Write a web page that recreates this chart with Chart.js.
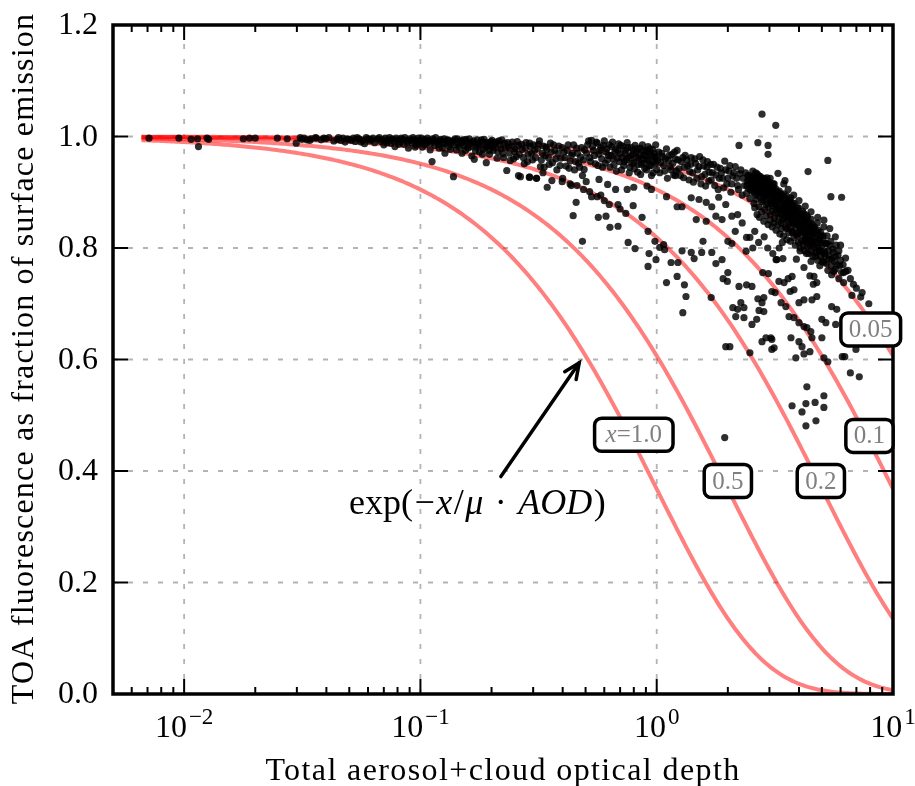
<!DOCTYPE html>
<html>
<head>
<meta charset="utf-8">
<script src="https://cdn.jsdelivr.net/npm/chart.js@4.4.1/dist/chart.umd.min.js"></script>
<style>
  html, body { margin: 0; padding: 0; background: #fff; }
  #wrap { width: 915px; height: 786px; }
</style>
</head>
<body>
<div id="wrap"><canvas id="fluorChart" width="915" height="786"></canvas></div>
<script>
// model curves exp(-x/mu * AOD), one per extinction factor x
const curveFactors = [1.0, 0.5, 0.2, 0.1, 0.05]
const mu = 1.0
const curveStart = 0.0066
const curveEnd = 10
const curveSamples = 300

// curve tags and where they sit (AOD, fraction)
const curveLabels = ['x=1.0', '0.5', '0.2', '0.1', '0.05']
const labelAod = [0.80, 2.0, 4.95, 7.95, 8.05]
const labelFrac = [0.465, 0.382, 0.382, 0.463, 0.654]

const yTicks = [0, 0.2, 0.4, 0.6, 0.8, 1.0, 1.2]
const xMajorTicks = [0.01, 0.1, 1, 10]
const xTickExponents = ['\u22122', '\u22121', '0', '1']

// arrow from the formula to the x=1.0 curve
const arrowTail = [0.219, 0.390]
const arrowHead = [0.470, 0.594]
const formulaAt = [0.1755, 0.340]

// observations as [AOD, TOA fraction]
const obsClear = [
  [0.0071,0.997],[0.0095,0.997],[0.0107,0.995],[0.0114,0.996],[0.0115,0.982],[0.0125,0.997],
  [0.0127,0.995],[0.0178,0.996],[0.0189,0.997],[0.020,0.997],[0.0248,0.997],[0.0273,0.996],
  [0.0298,0.988],[0.0315,0.995],[0.0322,0.997],[0.0330,0.994],[0.0345,0.996],[0.0362,0.997],
  [0.0390,0.997],[0.0397,0.996],[0.0445,0.995],[0.0460,0.993],[0.0470,0.997],[0.048,0.990],
  [0.050,0.995],[0.052,0.997],[0.053,0.991],[0.055,0.996],[0.057,0.993],[0.058,0.987],
  [0.060,0.996],[0.061,0.992],[0.063,0.997],[0.064,0.989],
  [0.031,0.998],[0.034,0.993],[0.036,0.998],[0.038,0.994],[0.041,0.998],[0.043,0.992],
  [0.045,0.998],[0.049,0.996],[0.051,0.993],[0.054,0.998],[0.056,0.990],[0.059,0.998],[0.062,0.994]
]

const obsThin = [
  [0.066,0.996],[0.068,0.991],[0.070,0.985],[0.071,0.997],[0.073,0.993],[0.075,0.988],[0.076,0.996],
  [0.078,0.982],[0.080,0.994],[0.082,0.990],[0.083,0.997],[0.085,0.986],[0.087,0.993],[0.089,0.979],
  [0.090,0.996],[0.092,0.989],[0.094,0.994],[0.096,0.985],[0.098,0.997],[0.100,0.991],
  [0.102,0.981],[0.104,0.995],[0.106,0.988],[0.108,0.993],[0.110,0.976],[0.112,0.955],[0.113,0.996],
  [0.115,0.984],[0.118,0.991],[0.120,0.979],[0.122,0.995],[0.125,0.987],[0.127,0.970],[0.130,0.993],
  [0.132,0.982],[0.135,0.989],[0.138,0.928],[0.140,0.996],[0.142,0.976],[0.145,0.986],[0.148,0.992],
  [0.150,0.970],[0.153,0.983],[0.156,0.995],[0.159,0.979],[0.162,0.988],[0.165,0.965],[0.168,0.992],
  [0.169,0.959],[0.172,0.981],[0.175,0.986],[0.178,0.972],[0.181,0.994],[0.184,0.977],[0.187,0.989],
  [0.190,0.953],[0.193,0.983],[0.196,0.968],[0.199,0.991],
  [0.203,0.975],[0.207,0.986],[0.211,0.961],[0.215,0.992],[0.219,0.978],[0.223,0.969],[0.227,0.988],
  [0.232,0.939],[0.236,0.981],[0.240,0.957],[0.245,0.990],[0.250,0.973],[0.255,0.964],[0.260,0.984],
  [0.265,0.928],[0.270,0.977],[0.275,0.951],[0.280,0.989],[0.286,0.968],[0.289,0.927],[0.292,0.982],
  [0.298,0.958],[0.304,0.975],[0.310,0.925],[0.316,0.986],[0.322,0.946],[0.328,0.970],[0.334,0.945],
  [0.340,0.981],[0.344,0.909],[0.348,0.962],[0.355,0.988],[0.362,0.953],[0.370,0.975],[0.378,0.940],
  [0.385,0.983],[0.393,0.961],[0.398,0.919],[0.405,0.972],[0.413,0.947],[0.422,0.985],[0.430,0.956],
  [0.435,0.912],[0.440,0.970],[0.449,0.940],[0.456,0.882],[0.458,0.979],[0.467,0.952],[0.476,0.963],
  [0.485,0.930],[0.493,0.941],[0.495,0.976],[0.503,0.919],
  [0.26,0.930],[0.29,0.927],[0.31,0.925],[0.33,0.935],[0.36,0.921],[0.40,0.925],[0.43,0.915],
  [0.46,0.912],[0.49,0.905],
  [0.067,0.998],[0.069,0.994],[0.072,0.989],[0.074,0.998],[0.077,0.992],[0.079,0.997],[0.081,0.986],
  [0.084,0.995],[0.086,0.998],[0.088,0.990],[0.091,0.993],[0.093,0.998],[0.095,0.981],[0.097,0.992],
  [0.099,0.987],[0.101,0.997],[0.103,0.990],[0.105,0.985],[0.107,0.997],[0.109,0.992],[0.111,0.988],
  [0.114,0.993],[0.116,0.998],[0.119,0.986],[0.121,0.992],[0.124,0.980],[0.126,0.996],[0.129,0.988],
  [0.131,0.994],[0.134,0.977],[0.137,0.992],[0.139,0.985],[0.143,0.996],[0.146,0.981],[0.149,0.989],
  [0.152,0.994],[0.155,0.975],[0.158,0.988],[0.161,0.996],[0.164,0.982],[0.167,0.990],[0.171,0.974],
  [0.174,0.994],[0.177,0.984],[0.180,0.990],[0.183,0.968],[0.186,0.995],[0.189,0.980],[0.192,0.989],
  [0.195,0.975],[0.198,0.985],
  [0.201,0.993],[0.205,0.980],[0.209,0.990],[0.213,0.972],[0.217,0.985],[0.221,0.994],[0.225,0.962],
  [0.229,0.979],[0.234,0.989],[0.238,0.970],[0.243,0.983],[0.248,0.960],[0.252,0.978],[0.257,0.991],
  [0.262,0.968],[0.268,0.986],[0.273,0.962],[0.278,0.979],[0.284,0.955],[0.290,0.988],[0.295,0.970],
  [0.301,0.985],[0.307,0.962],[0.313,0.978],[0.319,0.992],[0.325,0.958],[0.331,0.983],[0.337,0.966],
  [0.343,0.977],[0.351,0.950],[0.358,0.972],[0.366,0.985],[0.374,0.960],[0.382,0.970],[0.390,0.948],
  [0.398,0.980],[0.409,0.962],[0.418,0.975],[0.426,0.943],[0.436,0.966],[0.445,0.985],[0.453,0.955],
  [0.462,0.970],[0.472,0.945],[0.481,0.980],[0.490,0.958]
]

const obsModerate = [
  [0.51,0.985],[0.52,0.962],[0.53,0.993],[0.54,0.975],[0.55,0.951],[0.56,0.988],[0.57,0.968],
  [0.58,0.980],[0.59,0.945],[0.60,0.992],[0.61,0.972],[0.62,0.958],[0.63,0.985],[0.64,0.966],
  [0.65,0.990],[0.66,0.949],[0.67,0.978],[0.68,0.961],[0.69,0.987],[0.70,0.970],[0.71,0.940],
  [0.72,0.982],[0.73,0.955],[0.74,0.975],[0.75,0.989],[0.76,0.962],[0.77,0.945],[0.78,0.980],
  [0.79,0.968],[0.80,0.953],[0.81,0.984],[0.82,0.972],[0.83,0.936],[0.84,0.961],[0.85,0.979],
  [0.86,0.950],[0.87,0.985],[0.88,0.966],[0.89,0.943],[0.90,0.975],[0.91,0.958],[0.92,0.982],
  [0.93,0.947],[0.94,0.969],[0.95,0.930],[0.96,0.977],[0.97,0.955],[0.98,0.964],[0.99,0.985],
  [1.00,0.941],
  [1.02,0.972],[1.04,0.953],[1.06,0.964],[1.08,0.938],[1.10,0.978],[1.12,0.957],[1.14,0.946],
  [1.16,0.968],[1.18,0.931],[1.20,0.960],[1.22,0.975],[1.24,0.942],[1.27,0.955],[1.30,0.926],
  [1.32,0.966],[1.35,0.948],[1.38,0.937],[1.40,0.962],[1.43,0.918],[1.46,0.952],[1.49,0.940],
  [1.52,0.964],[1.55,0.928],[1.58,0.947],[1.61,0.911],[1.64,0.955],[1.67,0.936],[1.70,0.922],
  [1.74,0.950],[1.78,0.931],[1.82,0.905],[1.86,0.943],[1.90,0.925],[1.94,0.956],[1.98,0.915],
  [2.02,0.938],[2.06,0.900],[2.10,0.929],[2.15,0.946],[2.20,0.912],[2.25,0.933],[2.30,0.895],
  [0.57,0.923],[0.62,0.914],[0.67,0.905],[0.53,0.892],[0.52,0.901],[0.75,0.905],[0.80,0.909],
  [0.91,0.911],[0.95,0.905],[1.10,0.892],[1.22,0.874],[1.28,0.874],[1.20,0.930],[1.40,0.890],
  [1.51,0.887],[1.62,0.882],[1.47,0.851],[1.62,0.848],[1.78,0.857],[1.89,0.851],[2.08,0.857],
  [1.71,0.874],[1.83,0.891],[1.96,0.878],[2.20,0.860],[2.30,0.845],[2.15,0.830],[2.00,0.812],
  [0.56,0.892],[0.60,0.885],[0.63,0.878],[0.58,0.895],[0.70,0.870],[0.74,0.862],
  [0.505,0.970],[0.515,0.992],[0.525,0.955],[0.535,0.982],[0.545,0.966],[0.555,0.990],[0.565,0.948],
  [0.575,0.975],[0.585,0.960],[0.595,0.984],[0.605,0.952],[0.615,0.978],[0.625,0.966],[0.635,0.945],
  [0.645,0.982],[0.655,0.960],[0.665,0.972],[0.675,0.938],[0.685,0.975],[0.695,0.955],[0.705,0.984],
  [0.715,0.962],[0.725,0.948],[0.735,0.970],[0.745,0.958],[0.755,0.980],[0.765,0.935],[0.775,0.965],
  [0.785,0.952],[0.795,0.975],[0.805,0.942],[0.815,0.962],[0.825,0.978],[0.835,0.950],[0.845,0.968],
  [0.855,0.932],[0.865,0.960],[0.875,0.975],[0.885,0.952],[0.895,0.965],[0.905,0.940],[0.915,0.972],
  [0.925,0.958],[0.935,0.978],[0.945,0.948],[0.955,0.965],[0.965,0.935],[0.975,0.970],[0.985,0.952],
  [0.995,0.962],
  [1.01,0.958],[1.03,0.935],[1.05,0.970],[1.07,0.948],[1.09,0.960],[1.11,0.925],[1.13,0.966],
  [1.15,0.940],[1.17,0.952],[1.19,0.972],[1.21,0.938],[1.23,0.958],[1.26,0.930],[1.29,0.962],
  [1.31,0.945],[1.34,0.958],[1.37,0.922],[1.39,0.950],[1.42,0.935],[1.45,0.960],[1.48,0.925],
  [1.51,0.946],[1.54,0.915],[1.57,0.958],[1.60,0.932],[1.63,0.945],[1.66,0.920],[1.69,0.950],
  [1.72,0.935],[1.76,0.912],[1.80,0.945],[1.84,0.925],[1.88,0.935],[1.92,0.908],[1.96,0.940],
  [2.00,0.925],[2.04,0.948],[2.08,0.915],[2.12,0.935],[2.18,0.925],[2.22,0.905],[2.27,0.940]
]

const obsCluster = [
  [2.32,0.925],[2.35,0.912],[2.38,0.935],[2.40,0.898],[2.42,0.920],[2.44,0.907],[2.46,0.930],
  [2.48,0.889],[2.50,0.915],[2.51,0.927],[2.53,0.902],[2.55,0.938],[2.56,0.918],[2.58,0.880],
  [2.60,0.909],[2.61,0.926],[2.63,0.895],[2.65,0.915],[2.66,0.933],[2.68,0.902],[2.70,0.921],
  [2.71,0.874],[2.73,0.910],[2.75,0.928],
  [2.77,0.897],[2.79,0.915],[2.81,0.886],[2.83,0.922],[2.85,0.905],[2.87,0.869],[2.89,0.912],
  [2.91,0.893],[2.93,0.926],[2.95,0.880],[2.97,0.903],[2.99,0.918],[3.01,0.888],[3.03,0.860],
  [3.05,0.908],[3.07,0.895],[3.09,0.876],[3.11,0.915],[3.13,0.899],[3.15,0.853],[3.17,0.886],
  [3.19,0.906],[3.21,0.870],
  [3.24,0.893],[3.27,0.862],[3.30,0.902],[3.33,0.879],[3.36,0.845],[3.39,0.888],[3.42,0.868],
  [3.45,0.897],[3.48,0.853],[3.51,0.876],[3.54,0.835],[3.57,0.884],[3.60,0.862],[3.63,0.843],
  [3.66,0.873],[3.69,0.890],[3.72,0.851],[3.75,0.828],[3.78,0.866],
  [3.82,0.880],[3.86,0.846],[3.90,0.861],[3.94,0.825],[3.98,0.872],[4.02,0.839],[4.06,0.855],
  [4.10,0.812],[4.14,0.866],[4.18,0.832],[4.22,0.848],[4.26,0.818],[4.30,0.859],[4.35,0.826],
  [4.40,0.840],[4.45,0.805],[4.50,0.852],[4.55,0.820],
  [4.62,0.835],[4.70,0.806],[4.78,0.845],[4.86,0.815],[4.94,0.828],[5.02,0.793],[5.10,0.838],
  [5.18,0.808],[5.26,0.822],[5.35,0.786],[5.45,0.812],[5.55,0.798],[5.65,0.776],[5.75,0.805],
  [5.85,0.787],[5.95,0.768],
  [2.41,0.912],[2.45,0.922],[2.49,0.905],[2.52,0.918],[2.57,0.928],[2.59,0.899],[2.62,0.914],
  [2.64,0.887],[2.67,0.922],[2.69,0.910],[2.72,0.893],[2.74,0.917],[2.76,0.906],[2.78,0.883],
  [2.80,0.925],[2.82,0.900],[2.84,0.913],[2.86,0.891],[2.88,0.920],[2.90,0.878],[2.92,0.906],
  [2.94,0.897],[2.96,0.913],[2.98,0.872],[3.00,0.900],[3.02,0.912],[3.04,0.883],[3.06,0.902],
  [3.08,0.866],[3.10,0.894],[3.12,0.908],[3.14,0.880],[3.16,0.897],[3.18,0.864],[3.20,0.891],
  [3.23,0.876],[3.26,0.900],[3.29,0.855],[3.32,0.887],[3.35,0.869],[3.38,0.896],[3.41,0.850],
  [3.44,0.880],[3.47,0.866],[3.50,0.889],[3.53,0.857],[3.56,0.872],[3.59,0.848],[3.62,0.880],
  [3.65,0.858],[3.68,0.838],[3.71,0.869],[3.74,0.880],[3.77,0.845],[3.80,0.857],[3.84,0.870],
  [3.88,0.836],[3.92,0.852],[3.96,0.862],[4.00,0.828],[4.04,0.846],[4.08,0.858],[4.12,0.823],
  [4.16,0.841],[4.20,0.852],[4.24,0.812],[4.28,0.836],[4.32,0.846],[4.38,0.815],[4.42,0.830],
  [4.48,0.838],[4.52,0.808],[4.58,0.826],[4.66,0.818],[4.74,0.830],[4.82,0.800],[4.90,0.818],
  [4.98,0.809],[5.06,0.822],[5.14,0.795],
  [4.05,0.800],[4.30,0.790],[4.50,0.776],[4.70,0.785],[4.90,0.768],[5.10,0.775],[5.30,0.760],
  [5.50,0.752],[5.70,0.762],[5.90,0.745],[6.06,0.756],[3.90,0.780],[4.20,0.765],[4.45,0.750],
  [4.60,0.735],[2.55,0.800],[2.60,0.830],[2.70,0.810],[2.85,0.820],[2.95,0.800],[3.10,0.790],
  [3.30,0.800],[3.40,0.810],[3.20,0.779],
  [2.43,0.930],[2.47,0.915],[2.54,0.925],[2.58,0.910],[2.62,0.935],[2.66,0.905],[2.70,0.930],
  [2.74,0.900],[2.78,0.920],[2.82,0.910],[2.86,0.925],[2.90,0.895],[2.94,0.915],[2.98,0.905],
  [3.02,0.925],[3.06,0.885],[3.10,0.905],[3.14,0.915],[3.18,0.878],[3.22,0.900],[3.26,0.885],
  [3.30,0.870],[3.34,0.895],[3.38,0.860],[3.42,0.888],[3.46,0.875],[3.50,0.860],[3.55,0.893],
  [3.58,0.870],[3.62,0.855],[3.66,0.885],[3.70,0.862],[3.74,0.850],[3.78,0.876],[3.82,0.858],
  [3.86,0.868],[3.90,0.842],[3.94,0.872],[3.98,0.850],[4.02,0.862],[4.06,0.835],[4.10,0.855],
  [4.14,0.845],[4.18,0.862],[4.22,0.828],[4.26,0.850],[4.30,0.838],[4.35,0.856],[4.40,0.822],
  [4.45,0.845],[4.50,0.830],[4.55,0.842],[4.60,0.812],[4.65,0.838],[4.70,0.825],[4.76,0.810],
  [4.82,0.832],[4.88,0.795],[4.95,0.822],[5.00,0.805],[5.08,0.812],[5.16,0.785],[5.24,0.808],
  [5.32,0.795],[5.40,0.805],[5.50,0.780],[5.60,0.792],[5.70,0.785],[5.80,0.770],[5.90,0.795],
  [6.00,0.778],[6.15,0.770],[6.30,0.782],[6.45,0.760],[6.60,0.745],[6.80,0.735],[7.00,0.728],
  [7.30,0.712],
  [2.60,0.872],[2.66,0.860],[2.72,0.855],[2.78,0.865],[2.84,0.848],[2.90,0.858],[2.96,0.842],
  [3.02,0.850],[3.08,0.838],[3.14,0.845],[3.20,0.832],[3.26,0.842],[3.32,0.825],[3.38,0.835],
  [3.44,0.822],[3.50,0.838],[3.56,0.815],[3.62,0.828],[3.68,0.812],[3.74,0.830],[3.80,0.818],
  [3.86,0.805],[3.92,0.822],[3.98,0.810],[4.04,0.795],[4.10,0.830],[4.16,0.805],[4.22,0.795],
  [4.28,0.815],[4.34,0.802],[4.40,0.790],[4.46,0.812],[4.52,0.795],[4.58,0.785],[4.64,0.802],
  [4.72,0.792],[4.80,0.778],[4.86,0.795],[4.94,0.785],[5.02,0.775],[5.12,0.790],[5.22,0.772],
  [5.36,0.780],[5.48,0.768],[5.62,0.758],[3.45,0.915],[3.60,0.905],[3.80,0.895],[4.00,0.885],
  [4.25,0.875],[4.50,0.865],[4.80,0.855],[5.10,0.850],[5.40,0.835],[5.70,0.820],[6.00,0.805]
]

const obsSparse = [
  [0.443,0.858],[0.485,0.812],[0.566,0.855],[0.61,0.857],[0.634,0.837],[0.686,0.839],[0.686,0.878],
  [0.757,0.810],[0.81,0.799],[0.867,0.855],[0.795,0.876],[0.919,0.830],[0.928,0.790],[0.919,0.767],
  [0.993,0.779],[0.983,0.812],[1.03,0.801],[1.07,0.806],[1.08,0.797],[1.10,0.738],[1.15,0.774],
  [1.23,0.774],[1.22,0.749],[1.28,0.795],[1.31,0.734],[1.33,0.713],[1.29,0.684],[1.40,0.792],
  [1.44,0.781],[1.55,0.792],[1.57,0.812],[1.71,0.792],[1.70,0.711],[1.78,0.772],[1.89,0.779],
  [1.91,0.745],[2.00,0.756],[1.99,0.740],[2.08,0.808],[2.10,0.693],[2.20,0.690],[2.34,0.693],
  [2.23,0.731],[2.40,0.734],[2.53,0.731],[2.16,0.677],[2.34,0.675],[2.27,0.702],[2.40,0.819],
  [2.48,0.819],[2.39,0.794],[2.68,0.709],[2.79,0.702],[2.84,0.711],[2.71,0.688],[2.84,0.686],
  [2.53,0.663],[2.65,0.672],[2.81,0.756],[2.97,0.754],[3.07,0.722],[3.17,0.720],[3.22,0.779],
  [3.42,0.781],[3.29,0.740],[3.46,0.738],[3.60,0.745],[3.74,0.749],[3.67,0.722],[3.81,0.725],
  [3.36,0.702],[3.52,0.695],[3.63,0.677],[3.81,0.675],[4.00,0.666],[4.20,0.659],[4.32,0.657],
  [4.49,0.650],[4.00,0.702],[4.20,0.707],[4.54,0.707],[4.76,0.713],[4.63,0.749],[4.76,0.738],
  [5.00,0.672],[5.20,0.666],[5.50,0.695],[5.78,0.690],[5.72,0.663],[4.54,0.639],[5.00,0.639],
  [6.18,0.756],[6.31,0.758],[6.18,0.738],[6.70,0.715],[7.40,0.720],[7.90,0.700],[2.90,0.639],
  [3.07,0.636],[1.96,0.623],[2.04,0.623],[6.50,0.630],
  [2.48,0.612],[3.04,0.639],[3.07,0.618],[3.14,0.621],[3.88,0.603],[4.20,0.610],[4.45,0.614],
  [5.10,0.603],[5.30,0.596],[6.10,0.605],[6.25,0.605],[6.60,0.576],[7.20,0.569],[6.97,0.618],
  [4.32,0.551],[3.74,0.517],[4.28,0.521],[4.68,0.523],[5.10,0.535],[5.10,0.514],[4.12,0.506],
  [4.72,0.490],[4.28,0.481],[1.94,0.460],[2.79,0.632],[3.70,0.639],[4.00,0.632],[4.12,0.623],
  [2.79,1.040],[3.19,1.020],[2.23,0.984],[2.68,0.989],[2.96,0.984],[2.96,0.968],[5.30,0.957],
  [4.37,0.937],[3.26,0.934],[3.49,0.921],[5.46,0.892],[6.06,0.891]
]

const serif = '"Liberation Serif", "Times New Roman", serif'

function curvePoints(factor) {
  const pts = []
  const l0 = Math.log10(curveStart), l1 = Math.log10(curveEnd)
  for (let i = 0; i <= curveSamples; i++) {
    const a = Math.pow(10, l0 + (l1 - l0) * i / curveSamples)
    pts.push({ x: a, y: Math.exp(-factor / mu * a) })
  }
  return pts
}

const toXY = arr => arr.map(p => ({ x: p[0], y: p[1] }))
const observations = [].concat(obsClear, obsThin, obsModerate, obsCluster, obsSparse)

// draws text pieces in sequence, some of them italic; [null, _, gap] adds space
function drawRuns(ctx, runs, size, cx, cy, color, spacing) {
  ctx.fillStyle = color
  ctx.textBaseline = 'middle'
  ctx.textAlign = 'left'
  const sp = spacing || 0
  const widthOf = r => {
    if (r[0] === null) return r[2]
    ctx.font = (r[1] ? 'italic ' : '') + size + 'px ' + serif
    return ctx.measureText(r[0]).width + sp
  }
  let total = 0
  runs.forEach(r => { total += widthOf(r) })
  let px = cx - total / 2
  runs.forEach(r => {
    const w = widthOf(r)
    if (r[0] !== null) ctx.fillText(r[0], px, cy)
    px += w
  })
  return total
}

const decorations = {
  id: 'decorations',
  beforeDatasetsDraw(chart) {
    const { ctx, chartArea: a, scales: { x, y } } = chart
    ctx.save()
    ctx.strokeStyle = '#b3b3b3'
    ctx.lineWidth = 1.8
    ctx.setLineDash([5, 10])
    xMajorTicks.forEach(v => {
      const px = x.getPixelForValue(v)
      if (px >= a.right - 1) return
      ctx.beginPath(); ctx.moveTo(px, a.bottom); ctx.lineTo(px, a.top); ctx.stroke()
    })
    yTicks.forEach(v => {
      const py = y.getPixelForValue(v)
      if (py <= a.top + 1 || py >= a.bottom - 1) return
      ctx.beginPath(); ctx.moveTo(a.left, py); ctx.lineTo(a.right, py); ctx.stroke()
    })
    ctx.restore()
  },
  afterDatasetsDraw(chart) {
    const { ctx, chartArea: a, scales: { x, y } } = chart
    ctx.save()

    // tick marks pointing inwards on all four sides
    ctx.strokeStyle = '#000'
    ctx.lineWidth = 2
    const minor = []
    for (let e = -3; e <= 0; e++) {
      for (let m = 2; m <= 9; m++) {
        const v = m * Math.pow(10, e)
        if (v > 0.005 && v < 10) minor.push(v)
      }
    }
    const tick = (px, len) => {
      ctx.beginPath(); ctx.moveTo(px, a.bottom); ctx.lineTo(px, a.bottom - len); ctx.stroke()
      ctx.beginPath(); ctx.moveTo(px, a.top); ctx.lineTo(px, a.top + len); ctx.stroke()
    }
    minor.forEach(v => tick(x.getPixelForValue(v), 7))
    xMajorTicks.forEach(v => tick(x.getPixelForValue(v), 15))
    yTicks.forEach(v => {
      const py = y.getPixelForValue(v)
      ctx.beginPath(); ctx.moveTo(a.left, py); ctx.lineTo(a.left + 15, py); ctx.stroke()
      ctx.beginPath(); ctx.moveTo(a.right, py); ctx.lineTo(a.right - 15, py); ctx.stroke()
    })

    // frame
    ctx.lineWidth = 3.5
    ctx.strokeRect(a.left, a.top, a.right - a.left, a.bottom - a.top)

    // y tick labels
    ctx.fillStyle = '#000'
    ctx.font = '32px ' + serif
    ctx.textAlign = 'right'
    ctx.textBaseline = 'middle'
    yTicks.forEach(v => ctx.fillText(v.toFixed(1), a.left - 15, y.getPixelForValue(v) + 1))

    // x tick labels as 10 with a raised exponent
    xMajorTicks.forEach((v, i) => {
      const px = x.getPixelForValue(v)
      ctx.textAlign = 'left'
      ctx.textBaseline = 'alphabetic'
      ctx.font = '32px ' + serif
      const wb = ctx.measureText('10').width
      ctx.font = '23px ' + serif
      const we = ctx.measureText(xTickExponents[i]).width
      const left = px - (wb + 2 + we) / 2
      ctx.font = '32px ' + serif
      ctx.fillText('10', left, a.bottom + 43)
      ctx.font = '23px ' + serif
      ctx.fillText(xTickExponents[i], left + wb + 2, a.bottom + 30)
    })

    // axis titles
    ctx.font = '32px ' + serif
    ctx.letterSpacing = '1.4px'
    ctx.textAlign = 'center'
    ctx.textBaseline = 'alphabetic'
    ctx.fillText('Total aerosol+cloud optical depth', (a.left + a.right) / 2, a.bottom + 86)
    ctx.save()
    ctx.translate(33, (a.top + a.bottom) / 2 - 1)
    ctx.rotate(-Math.PI / 2)
    ctx.letterSpacing = '1.2px'
    ctx.fillText('TOA fluorescence as fraction of surface emission', 0, 0)
    ctx.restore()
    ctx.letterSpacing = '0px'

    // arrow and formula
    const tx = x.getPixelForValue(arrowTail[0]), ty = y.getPixelForValue(arrowTail[1])
    const hx = x.getPixelForValue(arrowHead[0]), hy = y.getPixelForValue(arrowHead[1])
    const ang = Math.atan2(hy - ty, hx - tx)
    ctx.strokeStyle = '#000'
    ctx.lineWidth = 3.5
    ctx.lineCap = 'round'
    ctx.beginPath(); ctx.moveTo(tx, ty); ctx.lineTo(hx, hy); ctx.stroke()
    ctx.beginPath()
    ctx.moveTo(hx - 17 * Math.cos(ang - 0.42), hy - 17 * Math.sin(ang - 0.42))
    ctx.lineTo(hx, hy)
    ctx.lineTo(hx - 17 * Math.cos(ang + 0.42), hy - 17 * Math.sin(ang + 0.42))
    ctx.stroke()
    ctx.lineCap = 'butt'

    drawRuns(ctx, [
      ['exp(', false], ['\u2212', false], ['x', true], ['/', false], ['\u03bc', true],
      [null, false, 10], ['\u00b7', false], [null, false, 10], ['AOD', true], [')', false]
    ], 36, x.getPixelForValue(formulaAt[0]), y.getPixelForValue(formulaAt[1]), '#000', 1.5)

    // curve tags in rounded boxes
    curveLabels.forEach((lab, i) => {
      const cx = x.getPixelForValue(labelAod[i]), cy = y.getPixelForValue(labelFrac[i])
      const runs = lab.startsWith('x=') ? [['x', true], [lab.slice(1), false]] : [[lab, false]]
      let w = 0
      runs.forEach(r => { ctx.font = (r[1] ? 'italic ' : '') + '25px ' + serif; w += ctx.measureText(r[0]).width })
      const bw = w + (lab.startsWith('x=') ? 22 : 16), bh = 33
      ctx.beginPath()
      ctx.roundRect(cx - bw / 2, cy - bh / 2, bw, bh, 7)
      ctx.fillStyle = '#fff'
      ctx.fill()
      ctx.lineWidth = 3.5
      ctx.strokeStyle = '#000'
      ctx.stroke()
      drawRuns(ctx, runs, 25, cx, cy + 1, '#808080')
    })

    ctx.restore()
  }
}

const datasets = [{
  type: 'scatter',
  label: 'observations',
  data: toXY(observations),
  pointRadius: 3.6,
  pointHoverRadius: 3.6,
  pointBackgroundColor: 'rgba(0,0,0,0.82)',
  pointBorderWidth: 0,
  order: 0
}]
curveFactors.forEach(f => {
  datasets.push({
    type: 'line',
    label: 'x=' + f,
    data: curvePoints(f),
    borderColor: 'rgba(255,0,0,0.5)',
    borderWidth: 4,
    pointRadius: 0,
    tension: 0,
    fill: false,
    order: 1
  })
})

new Chart(document.getElementById('fluorChart').getContext('2d'), {
  data: { datasets },
  options: {
    responsive: false,
    animation: false,
    layout: { padding: { left: 113, right: 22, top: 25, bottom: 92 } },
    plugins: { legend: { display: false }, tooltip: { enabled: false } },
    scales: {
      x: { type: 'logarithmic', min: 0.005, max: 10, display: false },
      y: { type: 'linear', min: 0, max: 1.2, display: false }
    }
  },
  plugins: [decorations]
})
</script>
</body>
</html>
